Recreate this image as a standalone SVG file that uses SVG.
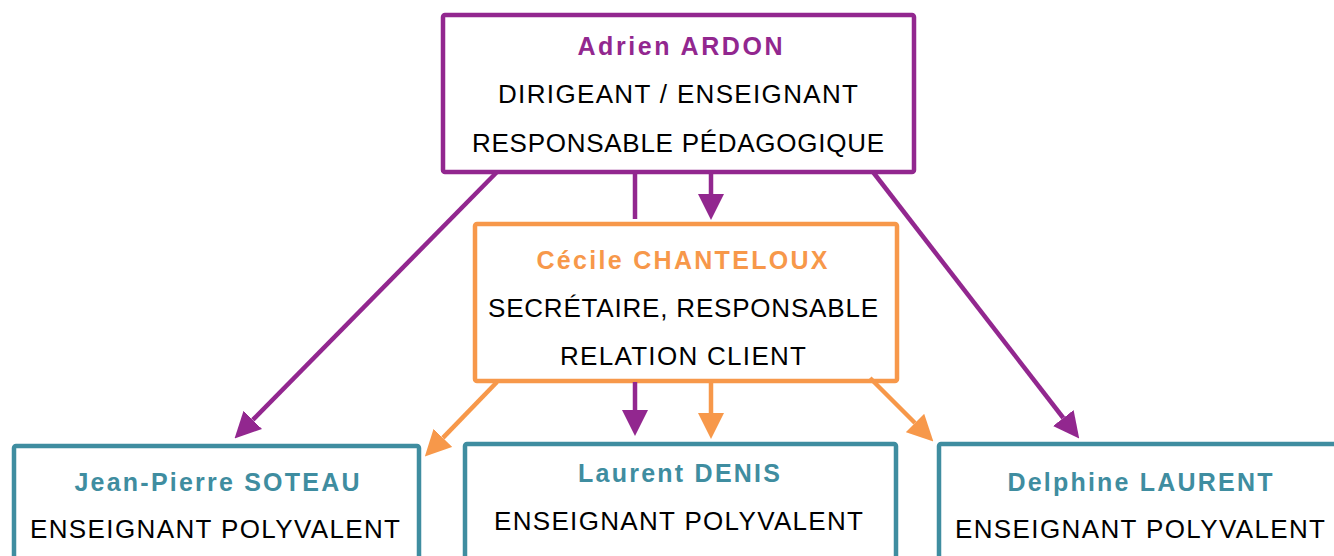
<svg xmlns="http://www.w3.org/2000/svg" width="1334" height="556" viewBox="0 0 1334 556">
<style>
.box{fill:#fff;stroke-width:4.5}
.p{stroke:#92278f}
.o{stroke:#f7984a}
.t{stroke:#3f8da0}
text{font-family:"Liberation Sans",Arial,sans-serif;text-anchor:middle}
.name{font-size:25px;font-weight:bold}
.role{font-size:26px;fill:#000}
.np{fill:#92278f}.no{fill:#f7984a}.nt{fill:#3f8da0}
.c{fill:none;stroke-width:4.5}
</style>
<defs>
<marker id="ap" markerUnits="userSpaceOnUse" markerWidth="26" markerHeight="26" refX="0" refY="12" orient="auto" viewBox="0 0 24 24"><path d="M0,0 L24,12 L0,24 Z" fill="#92278f"/></marker>
<marker id="ao" markerUnits="userSpaceOnUse" markerWidth="26" markerHeight="26" refX="0" refY="12" orient="auto" viewBox="0 0 24 24"><path d="M0,0 L24,12 L0,24 Z" fill="#f7984a"/></marker>
</defs>
<g id="n-adrien">
<rect class="box p" x="443" y="15" width="471" height="157" rx="2"/>
<text class="name np" x="680" y="55" textLength="205" lengthAdjust="spacing">Adrien ARDON</text>
<text class="role" x="678" y="103" textLength="360" lengthAdjust="spacing">DIRIGEANT / ENSEIGNANT</text>
<text class="role" x="678" y="152" textLength="412" lengthAdjust="spacing">RESPONSABLE PÉDAGOGIQUE</text>
</g>
<g id="n-cecile">
<rect class="box o" x="475" y="224" width="422" height="157" rx="2"/>
<text class="name no" x="682" y="269" textLength="291" lengthAdjust="spacing">Cécile CHANTELOUX</text>
<text class="role" x="683" y="317" textLength="390" lengthAdjust="spacing">SECRÉTAIRE, RESPONSABLE</text>
<text class="role" x="683" y="365" textLength="246" lengthAdjust="spacing">RELATION CLIENT</text>
</g>
<g id="n-jeanpierre">
<rect class="box t" x="14" y="446" width="405" height="130" rx="2"/>
<text class="name nt" x="217" y="491" textLength="285" lengthAdjust="spacing">Jean-Pierre SOTEAU</text>
<text class="role" x="215" y="538" textLength="370" lengthAdjust="spacing">ENSEIGNANT POLYVALENT</text>
</g>
<g id="n-laurent">
<rect class="box t" x="465" y="444" width="431" height="130" rx="2"/>
<text class="name nt" x="679" y="482" textLength="202" lengthAdjust="spacing">Laurent DENIS</text>
<text class="role" x="678.5" y="530" textLength="369" lengthAdjust="spacing">ENSEIGNANT POLYVALENT</text>
</g>
<g id="n-delphine">
<rect class="box t" x="939" y="444" width="420" height="130" rx="2"/>
<text class="name nt" x="1140" y="491" textLength="265" lengthAdjust="spacing">Delphine LAURENT</text>
<text class="role" x="1140" y="538" textLength="370" lengthAdjust="spacing">ENSEIGNANT POLYVALENT</text>
</g>
<g id="connectors">
<line class="c p" x1="497" y1="172" x2="252.8" y2="419.9" marker-end="url(#ap)"/>
<line class="c p" x1="635" y1="172" x2="635" y2="219"/>
<line class="c p" x1="635" y1="382" x2="635" y2="410" marker-end="url(#ap)"/>
<line class="c p" x1="711" y1="172" x2="711" y2="194" marker-end="url(#ap)"/>
<line class="c p" x1="873" y1="172" x2="1063.3" y2="418" marker-end="url(#ap)"/>
<line class="c o" x1="497" y1="382" x2="442.9" y2="437.9" marker-end="url(#ao)"/>
<line class="c o" x1="711" y1="382" x2="711" y2="413" marker-end="url(#ao)"/>
<line class="c o" x1="870" y1="378" x2="915" y2="423" marker-end="url(#ao)"/>
</g>
</svg>
